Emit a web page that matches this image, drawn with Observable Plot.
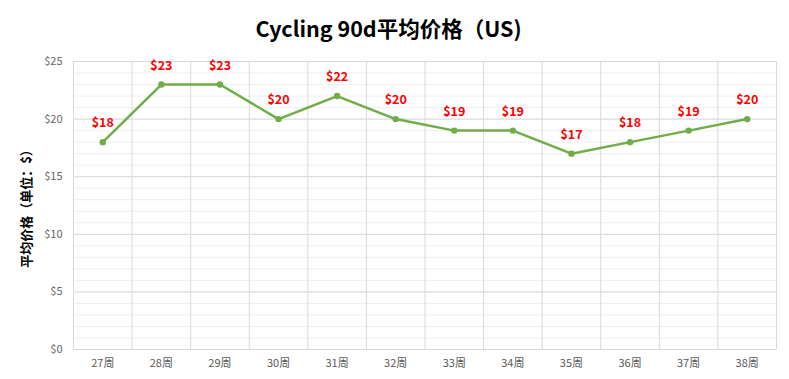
<!DOCTYPE html>
<html>
<head>
<meta charset="utf-8">
<script src="https://cdn.jsdelivr.net/npm/d3@7"></script>
<script src="https://cdn.jsdelivr.net/npm/@observablehq/plot@0.6"></script>
<style>
  html, body { margin: 0; padding: 0; background: #fff; }
  body { width: 789px; height: 379px; overflow: hidden; font-family: "Noto Sans CJK SC", "Noto Sans", sans-serif; }
  #title { height: 48px; line-height: 56px; text-align: center; font-size: 21.5px; font-weight: bold; color: #000; padding-right: 12px; box-sizing: border-box; }
</style>
</head>
<body>
<div id="title">Cycling 90d平均价格（US)</div>
<div id="chart"></div>
<script>
const weeks = ["27周","28周","29周","30周","31周","32周","33周","34周","35周","36周","37周","38周"];
const prices = [18, 23, 23, 20, 22, 20, 19, 19, 17, 18, 19, 20];
const yTicks = [0, 5, 10, 15, 20, 25];
const yMinor = d3.range(0, 26);

const data = weeks.map((w, i) => ({week: w, i: i + 0.5, price: prices[i]}));
const xBounds = d3.range(0, weeks.length + 1);

const chart = Plot.plot({
  width: 789,
  height: 331,
  marginTop: 13,
  marginBottom: 30,
  marginLeft: 73,
  marginRight: 13,
  style: {fontFamily: '"Noto Sans CJK SC", "Noto Sans", sans-serif', background: "#fff"},
  x: {domain: [0, weeks.length], axis: null},
  y: {domain: [0, 25], axis: null},
  marks: [
    Plot.ruleY(yMinor, {stroke: "#efefef", strokeWidth: 1}),
    Plot.ruleY(yTicks, {stroke: "#d9d9d9", strokeWidth: 1}),
    Plot.ruleX(xBounds, {stroke: "#d9d9d9", strokeWidth: 1}),
    Plot.axisY(yTicks, {tickSize: 0, tickPadding: 11, tickFormat: d => "$" + d, fontSize: 11, color: "#666",
      label: "平均价格（单位：$）", labelAnchor: "center", labelArrow: "none", labelOffset: 52}),
    Plot.axisX(data.map(d => d.i), {tickSize: 0, tickPadding: 10, tickFormat: (d, k) => weeks[k], fontSize: 11, color: "#595959", label: null}),
    Plot.line(data, {x: "i", y: "price", stroke: "#70AD47", strokeWidth: 2.5}),
    Plot.dot(data, {x: "i", y: "price", fill: "#70AD47", r: 3.2}),
    Plot.text(data, {x: "i", y: "price", text: d => "$" + d.price, dy: -19, fill: "#FF0000", fontWeight: "bold", fontSize: 12.5})
  ]
});
document.getElementById("chart").appendChild(chart);
// style the y-axis label
chart.querySelectorAll("text").forEach(t => {
  if (t.textContent === "平均价格（单位：$）") { t.style.fontWeight = "bold"; t.style.fontSize = "13px"; t.setAttribute("fill", "#000"); }
});
</script>
</body>
</html>
